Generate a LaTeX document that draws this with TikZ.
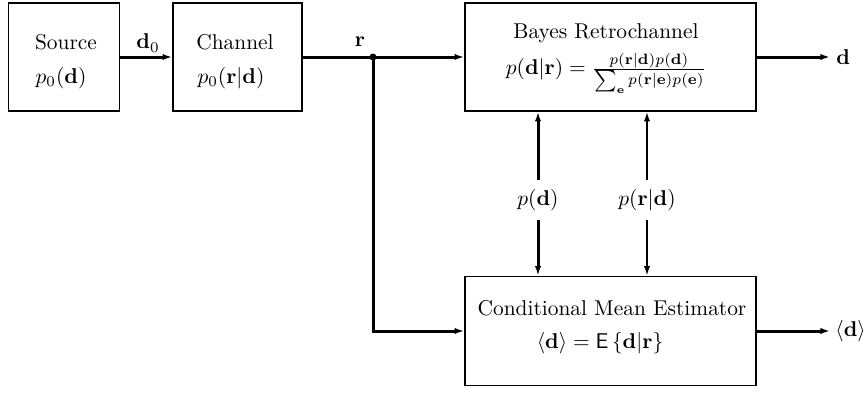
\documentclass[tikz,border=0pt]{standalone}
\usetikzlibrary{arrows.meta}
\begin{document}
\begin{tikzpicture}[x=0.467pt,y=-0.467pt,
  blk/.style={draw,line width=0.8pt,inner sep=0pt},
  flow/.style={line width=1.4pt,-{Latex[length=4.5pt,width=3pt]}},
  thinflow/.style={line width=0.8pt,-{Latex[length=4.5pt,width=3pt]}},
  wire/.style={line width=1.4pt},
  txt/.style={inner sep=0pt},
  tap/.style={inner sep=4pt}]
\useasboundingbox (0,0) rectangle (866,392);

% blocks
\node[blk,minimum width=111*0.467pt,minimum height=108*0.467pt] (src) at (64,57) {};
\node[blk,minimum width=129*0.467pt,minimum height=108*0.467pt] (chan) at (237.5,57) {};
\node[blk,minimum width=291*0.467pt,minimum height=108*0.467pt] (bayes) at (610.5,57) {};
\node[blk,minimum width=291*0.467pt,minimum height=109*0.467pt] (cme) at (610.5,331) {};

% block contents
\node[txt] (srcname) at (66,42) {Source};
\node[txt] (srcpdf) at (61,78) {$p_0(\mathbf{d})$};
\node[txt] (channame) at (235,42) {Channel};
\node[txt] (chanpdf) at (231,78) {$p_0(\mathbf{r}|\mathbf{d})$};
\node[txt] (bayesname) at (606,33) {Bayes Retrochannel};
\node[txt] (bayespdf) at (606,73) {$p(\mathbf{d}|\mathbf{r})=\frac{p(\mathbf{r}|\mathbf{d})p(\mathbf{d})}{\sum_{\mathbf{e}}p(\mathbf{r}|\mathbf{e})p(\mathbf{e})}$};
\node[txt] (cmename) at (612,308) {Conditional Mean Estimator};
\node[txt] (cmeeq) at (600,343) {$\langle\mathbf{d}\rangle=\mathsf{E}\left\{\mathbf{d}|\mathbf{r}\right\}$};

% forward path
\draw[flow] (src) -- (chan);
\node[txt] (dzero) at (148,43) {$\mathbf{d}_0$};
\node[circle,fill,inner sep=0pt,minimum size=7*0.467pt] (split) at (373,57) {};
\draw[wire] (chan.east) -- (split.center);
\draw[flow] (split.center) -- (bayes.west);
\node[txt] (rlbl) at (360,42) {$\mathbf{r}$};
\draw[flow] (split.center) |- (cme.west);

% outputs
\coordinate (dend) at (830,57);
\draw[flow] (bayes.east) -- (dend);
\node[txt,anchor=west] (dout) at (836,57) {$\mathbf{d}$};
\coordinate (mend) at (830,331);
\draw[flow] (cme.east) -- (mend);
\node[txt,anchor=west] (mout) at (835,331) {$\langle\mathbf{d}\rangle$};

% links between the two lower-level blocks
\node[tap] (prior) at (538,200) {$p(\mathbf{d})$};
\draw[flow] (prior) -- (prior |- bayes.south);
\draw[flow] (prior) -- (prior |- cme.north);
\node[tap] (lik) at (647,200) {$p(\mathbf{r}|\mathbf{d})$};
\draw[thinflow] (lik) -- (lik |- bayes.south);
\draw[thinflow] (lik) -- (lik |- cme.north);
\end{tikzpicture}
\end{document}
